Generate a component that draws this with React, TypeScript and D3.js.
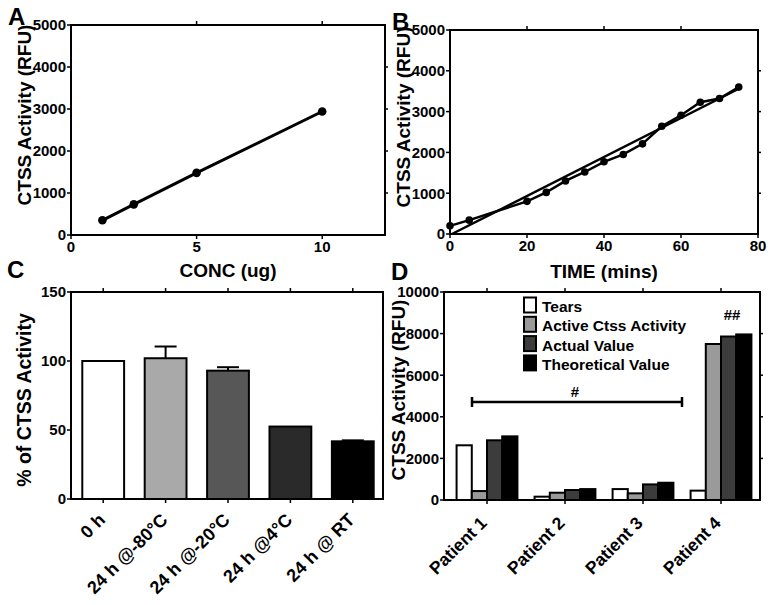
import React from 'react';
import * as d3 from 'd3';

const FONT = '"Liberation Sans", Arial, Helvetica, sans-serif';

// Panel A
const concA = [1.25, 2.5, 5, 10];
const rfuA = [350, 730, 1480, 2940];
const xTicksA = [0, 5, 10];
const yTicksA = [0, 1000, 2000, 3000, 4000, 5000];

// Panel B
const timeB = [0, 5, 20, 25, 30, 35, 40, 45, 50, 55, 60, 65, 70, 75];
const rfuB = [200, 340, 800, 1020, 1300, 1520, 1770, 1950, 2210, 2640, 2910, 3230, 3320, 3600];
const fitTimeB = [0.5, 75];
const fitRfuB = [0, 3560];
const xTicksB = [0, 20, 40, 60, 80];
const yTicksB = [0, 1000, 2000, 3000, 4000, 5000];

// Panel C
const condC = ['0 h', '24 h @-80°C', '24 h @-20°C', '24 h @4°C', '24 h @ RT'];
const pctC = [100, 102, 93, 52.5, 41.8];
const errC = [0, 8.5, 2.5, 0, 0.7];
const colC = ['#ffffff', '#a9a9a9', '#575757', '#2a2a2a', '#000000'];
const yTicksC = [0, 50, 100, 150];

// Panel D
const patientsD = ['Patient 1', 'Patient 2', 'Patient 3', 'Patient 4'];
const seriesD = ['Tears', 'Active Ctss Activity', 'Actual Value', 'Theoretical Value'];
const colD = ['#ffffff', '#9a9a9a', '#3c3c3c', '#000000'];
const tearsD = [2630, 160, 525, 450];
const activeD = [430, 350, 320, 7500];
const actualD = [2870, 480, 750, 7860];
const theoD = [3060, 525, 830, 7960];
const yTicksD = [0, 2000, 4000, 6000, 8000, 10000];

const tickFont = 15;
const titleFont = 19;

export default function App() {
  // scales
  const xA = d3.scaleLinear().domain([0, 12.5]).range([71, 385]);
  const yA = d3.scaleLinear().domain([0, 5000]).range([235, 25]);
  const xB = d3.scaleLinear().domain([0, 80]).range([450, 758]);
  const yB = d3.scaleLinear().domain([0, 5000]).range([234, 30]);
  const xC = d3.scaleBand<string>().domain(condC).range([72, 384]).paddingInner(0.33).paddingOuter(0.165);
  const yC = d3.scaleLinear().domain([0, 150]).range([499, 292]);
  const xD = d3.scaleBand<string>().domain(patientsD).range([448, 760]).paddingInner(0.22).paddingOuter(0.11);
  const xDi = d3.scaleBand<string>().domain(seriesD).range([0, xD.bandwidth()]);
  const yD = d3.scaleLinear().domain([0, 10000]).range([500, 292]);
  const valsD = [tearsD, activeD, actualD, theoD];

  const lineA = d3.line<number>().x((_, i) => xA(concA[i])).y((d) => yA(d));
  const lineB = d3.line<number>().x((_, i) => xB(timeB[i])).y((d) => yB(d));
  const fitB = d3.line<number>().x((_, i) => xB(fitTimeB[i])).y((d) => yB(d));

  const boldText = { fontFamily: FONT, fontWeight: 700 as const, fill: '#000' };

  const frame = (x0: number, y0: number, x1: number, y1: number) => (
    <rect x={x0} y={y0} width={x1 - x0} height={y1 - y0} fill="none" stroke="#000" strokeWidth={2} />
  );

  return (
    <svg width={774} height={605} style={{ position: 'absolute', left: 0, top: 0, background: '#fff' }}>
      <rect x={0} y={0} width={774} height={605} fill="#fff" />

      {/* ================= Panel A ================= */}
      <text x={8} y={25} fontSize={24} {...boldText}>A</text>
      {yTicksA.map((t) => (
        <g key={'ya' + t}>
          <line x1={67} x2={71} y1={yA(t)} y2={yA(t)} stroke="#000" strokeWidth={1.5} />
          <text x={66} y={yA(t)} dy="0.36em" textAnchor="end" fontSize={tickFont} {...boldText}>{t}</text>
          {t > 0 && t < 5000 && <line x1={385} x2={388} y1={yA(t)} y2={yA(t)} stroke="#000" strokeWidth={1.5} />}
        </g>
      ))}
      {xTicksA.map((t) => (
        <g key={'xa' + t}>
          <line x1={xA(t)} x2={xA(t)} y1={235} y2={239} stroke="#000" strokeWidth={1.5} />
          {t > 0 && <line x1={xA(t)} x2={xA(t)} y1={25} y2={21} stroke="#000" strokeWidth={1.5} />}
          <text x={xA(t)} y={252} textAnchor="middle" fontSize={tickFont} {...boldText}>{t}</text>
        </g>
      ))}
      {frame(71, 25, 385, 235)}
      <path d={lineA(rfuA) || ''} fill="none" stroke="#000" strokeWidth={3} />
      {rfuA.map((v, i) => (
        <circle key={'pa' + i} cx={xA(concA[i])} cy={yA(v)} r={4.3} fill="#000" />
      ))}
      <text transform="translate(31,115) rotate(-90)" textAnchor="middle" fontSize={titleFont} {...boldText}>CTSS Activity (RFU)</text>
      <text x={228} y={277} textAnchor="middle" fontSize={titleFont} {...boldText}>CONC (ug)</text>

      {/* ================= Panel B ================= */}
      <text x={392} y={30} fontSize={24} {...boldText}>B</text>
      {yTicksB.map((t) => (
        <g key={'yb' + t}>
          <line x1={446} x2={450} y1={yB(t)} y2={yB(t)} stroke="#000" strokeWidth={1.5} />
          <text x={445} y={yB(t)} dy="0.36em" textAnchor="end" fontSize={tickFont} {...boldText}>{t}</text>
          {t > 0 && t < 5000 && <line x1={758} x2={761} y1={yB(t)} y2={yB(t)} stroke="#000" strokeWidth={1.5} />}
        </g>
      ))}
      {xTicksB.map((t) => (
        <g key={'xb' + t}>
          <line x1={xB(t)} x2={xB(t)} y1={234} y2={238} stroke="#000" strokeWidth={1.5} />
          {t > 0 && t < 80 && <line x1={xB(t)} x2={xB(t)} y1={30} y2={26} stroke="#000" strokeWidth={1.5} />}
          <text x={xB(t)} y={251} textAnchor="middle" fontSize={tickFont} {...boldText}>{t}</text>
        </g>
      ))}
      {frame(450, 30, 758, 234)}
      <path d={fitB(fitRfuB) || ''} fill="none" stroke="#000" strokeWidth={2.5} />
      <path d={lineB(rfuB) || ''} fill="none" stroke="#000" strokeWidth={2.5} />
      {rfuB.map((v, i) => (
        <circle key={'pb' + i} cx={xB(timeB[i])} cy={yB(v)} r={3.8} fill="#000" />
      ))}
      <text transform="translate(410,117) rotate(-90)" textAnchor="middle" fontSize={titleFont} {...boldText}>CTSS Activity (RFU)</text>
      <text x={604} y={278} textAnchor="middle" fontSize={titleFont} {...boldText}>TIME (mins)</text>

      {/* ================= Panel C ================= */}
      <text x={7} y={278} fontSize={24} {...boldText}>C</text>
      {yTicksC.map((t) => (
        <g key={'yc' + t}>
          <line x1={67} x2={71} y1={yC(t)} y2={yC(t)} stroke="#000" strokeWidth={1.5} />
          <text x={66} y={yC(t)} dy="0.36em" textAnchor="end" fontSize={tickFont} {...boldText}>{t}</text>
        </g>
      ))}
      {condC.map((c, i) => {
        const cx = (xC(c) || 0) + xC.bandwidth() / 2;
        const top = yC(pctC[i]);
        return (
          <g key={'bc' + i}>
            <line x1={cx} x2={cx} y1={499} y2={503} stroke="#000" strokeWidth={1.5} />
            <line x1={cx} x2={cx} y1={292} y2={288} stroke="#000" strokeWidth={1.5} />
            {errC[i] > 0 && (
              <g>
                <line x1={cx} x2={cx} y1={top} y2={yC(pctC[i] + errC[i])} stroke="#000" strokeWidth={2} />
                <line x1={cx - 11} x2={cx + 11} y1={yC(pctC[i] + errC[i])} y2={yC(pctC[i] + errC[i])} stroke="#000" strokeWidth={2} />
              </g>
            )}
            <rect x={xC(c)} y={top} width={xC.bandwidth()} height={499 - top} fill={colC[i]} stroke="#000" strokeWidth={2} />
            <text transform={`translate(${cx + 3},521) rotate(-45)`} textAnchor="end" fontSize={18} {...boldText}>{c}</text>
          </g>
        );
      })}
      {frame(71, 292, 383, 499)}
      <text transform="translate(31,400) rotate(-90)" textAnchor="middle" fontSize={19.5} {...boldText}>% of CTSS Activity</text>

      {/* ================= Panel D ================= */}
      <text x={391} y={280} fontSize={24} {...boldText}>D</text>
      {yTicksD.map((t) => (
        <g key={'yd' + t}>
          <line x1={440} x2={444} y1={yD(t)} y2={yD(t)} stroke="#000" strokeWidth={1.5} />
          <text x={439} y={yD(t)} dy="0.36em" textAnchor="end" fontSize={tickFont} {...boldText}>{t}</text>
          {t > 0 && t < 10000 && <line x1={760} x2={763} y1={yD(t)} y2={yD(t)} stroke="#000" strokeWidth={1.5} />}
        </g>
      ))}
      {patientsD.map((p, gi) => {
        const gx = xD(p) || 0;
        const cx = gx + xD.bandwidth() / 2;
        return (
          <g key={'gd' + gi}>
            <line x1={cx} x2={cx} y1={500} y2={504} stroke="#000" strokeWidth={1.5} />
            <line x1={cx} x2={cx} y1={292} y2={288} stroke="#000" strokeWidth={1.5} />
            {seriesD.map((s, si) => {
              const top = yD(valsD[si][gi]);
              return (
                <rect key={s} x={gx + (xDi(s) || 0)} y={top} width={xDi.bandwidth()} height={500 - top}
                  fill={colD[si]} stroke="#000" strokeWidth={2} />
              );
            })}
            <text transform={`translate(${cx + 1},524) rotate(-45)`} textAnchor="end" fontSize={17.5} {...boldText}>{p}</text>
          </g>
        );
      })}
      {frame(444, 292, 760, 500)}
      {/* legend */}
      {seriesD.map((s, si) => (
        <g key={'lg' + si}>
          <rect x={524} y={297.5 + si * 19.3} width={12} height={15} fill={colD[si]} stroke="#000" strokeWidth={2} />
          <text x={542} y={312 + si * 19.3} fontSize={15.5} {...boldText}>{s}</text>
        </g>
      ))}
      {/* significance */}
      <line x1={472} x2={682} y1={402} y2={402} stroke="#000" strokeWidth={2.5} />
      <line x1={472} x2={472} y1={397} y2={407} stroke="#000" strokeWidth={2.5} />
      <line x1={682} x2={682} y1={397} y2={407} stroke="#000" strokeWidth={2.5} />
      <text x={575} y={397} textAnchor="middle" fontSize={15} {...boldText}>#</text>
      <text x={732} y={320} textAnchor="middle" fontSize={15} {...boldText}>##</text>
      <text transform="translate(405,390) rotate(-90)" textAnchor="middle" fontSize={titleFont} {...boldText}>CTSS Activity (RFU)</text>
    </svg>
  );
}
